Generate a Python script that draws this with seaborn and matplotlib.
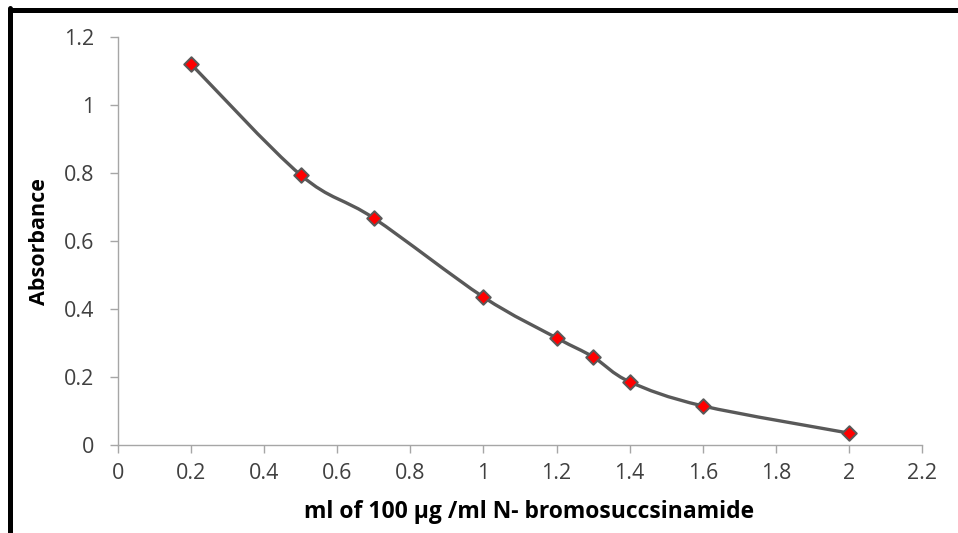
import numpy as np
import pandas as pd
import matplotlib.pyplot as plt
import seaborn as sns
from matplotlib.path import Path
from matplotlib.patches import PathPatch
from matplotlib.lines import Line2D

# values
volume_ml = [0.2, 0.5, 0.7, 1.0, 1.2, 1.3, 1.4, 1.6, 2.0]
absorbance = [1.12, 0.794, 0.667, 0.435, 0.315, 0.259, 0.186, 0.115, 0.035]

x_ticks = [0, 0.2, 0.4, 0.6, 0.8, 1, 1.2, 1.4, 1.6, 1.8, 2, 2.2]
y_ticks = [0, 0.2, 0.4, 0.6, 0.8, 1, 1.2]
x_label = "ml of 100 µg /ml N- bromosuccsinamide"
y_label = "Absorbance"

LINE = "#595959"
AXIS = "#A6A6A6"
TEXT = "#404040"


def smooth_path(xs, ys, tension=1 / 6):
    """Excel-like smoothed line: cubic Bezier segments through the points."""
    pts = np.column_stack([xs, ys])
    n = len(pts)
    verts = [pts[0]]
    codes = [Path.MOVETO]
    for i in range(n - 1):
        p0 = pts[max(i - 1, 0)]
        p1 = pts[i]
        p2 = pts[i + 1]
        p3 = pts[min(i + 2, n - 1)]
        c1 = p1 + (p2 - p0) * tension
        c2 = p2 - (p3 - p1) * tension
        verts += [c1, c2, p2]
        codes += [Path.CURVE4] * 3
    return Path(verts, codes)


sns.set_theme(style="white")
plt.rcParams["font.family"] = ["Open Sans", "DejaVu Sans"]

df = pd.DataFrame({"volume": volume_ml, "absorbance": absorbance})

fig = plt.figure(figsize=(9.58, 5.33), dpi=100)
ax = fig.add_axes([118 / 958, 1 - 445 / 533, (922 - 118) / 958, (445 - 37) / 533])

ax.add_patch(PathPatch(smooth_path(df["volume"], df["absorbance"]),
                       facecolor="none", edgecolor=LINE, lw=2.4,
                       capstyle="round", zorder=2))
sns.scatterplot(data=df, x="volume", y="absorbance", ax=ax, marker="D",
                s=55, color="#FF0000", edgecolor=LINE, linewidth=1.4,
                zorder=3, legend=False)

ax.set_xlim(0, 2.2)
ax.set_ylim(0, 1.2)
ax.set_xticks(x_ticks)
ax.set_xticklabels([f"{v:g}" for v in x_ticks])
ax.set_yticks(y_ticks)
ax.set_yticklabels([f"{v:g}" for v in y_ticks])

for side in ["top", "right"]:
    ax.spines[side].set_visible(False)
for side in ["left", "bottom"]:
    ax.spines[side].set_color(AXIS)
    ax.spines[side].set_linewidth(1.0)

ax.tick_params(axis="both", which="major", direction="out", length=6,
               width=1.0, color=AXIS, labelsize=15.5, labelcolor=TEXT,
               bottom=True, left=True)
ax.tick_params(axis="x", pad=7)
ax.tick_params(axis="y", pad=11)

ax.set_xlabel(x_label, fontsize=16.5, fontweight="bold", color="black")
ax.set_ylabel(y_label, fontsize=15.5, fontweight="bold", color="black")
ax.xaxis.label.set_va("baseline")
ax.xaxis.set_label_coords(0.511, -73 / 408)
ax.yaxis.label.set_va("baseline")
ax.yaxis.set_label_coords(-73 / 804, 0.499)

# heavy black frame on top and left (the picture is cropped on the other sides)
fig.add_artist(Line2D([9.5 / 958, 1.0], [1 - 9.5 / 533, 1 - 9.5 / 533],
                      transform=fig.transFigure, color="black", lw=3.6))
fig.add_artist(Line2D([9.5 / 958, 9.5 / 958], [0.0, 1 - 7.5 / 533],
                      transform=fig.transFigure, color="black", lw=3.6))

fig.savefig("out.png", dpi=100)
plt.close(fig)
